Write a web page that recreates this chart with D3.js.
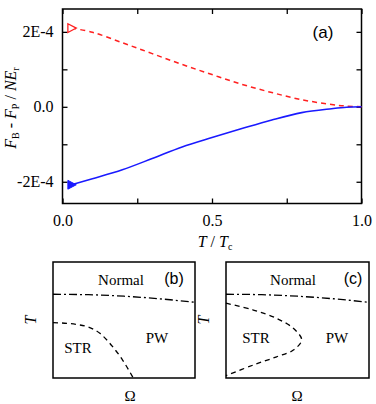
<!DOCTYPE html>
<html>
<head>
<meta charset="utf-8">
<script src="https://d3js.org/d3.v7.min.js"></script>
<style>
  html, body { margin: 0; padding: 0; background: #fff; }
  svg { display: block; }
</style>
</head>
<body>
<svg id="chart" width="376" height="404"></svg>
<script>
// panel (a): free energy difference vs T/Tc
const tRatio = [0.03, 0.1, 0.2, 0.3, 0.4, 0.5, 0.6, 0.7, 0.8, 0.9, 0.95, 1.0];
const dfUpper = [2.10e-4, 1.99e-4, 1.71e-4, 1.42e-4, 1.13e-4, 0.86e-4, 0.60e-4, 0.38e-4, 0.19e-4, 0.06e-4, 0.02e-4, 0];
const dfLower = [-2.08e-4, -1.92e-4, -1.68e-4, -1.38e-4, -1.07e-4, -0.82e-4, -0.58e-4, -0.35e-4, -0.155e-4, -0.05e-4, -0.01e-4, 0];
const yMajor = [-2e-4, 0, 2e-4];
const yMinor = [-1e-4, 1e-4];
const yLabels = ['-2E-4', '0.0', '2E-4'];
const xMajor = [0, 0.5, 1];
const xMinor = [0.25, 0.75];
const xLabels = ['0.0', '0.5', '1.0'];

// panels (b), (c): schematic phase diagrams, normalized (omega, T)
const normalLineOmega = [0, 0.25, 0.5, 0.75, 1];
const normalLineT = [0.722, 0.718, 0.705, 0.683, 0.652];
const strB_omega = [0, 0.19, 0.33, 0.42, 0.49, 0.565];
const strB_T = [0.478, 0.457, 0.385, 0.27, 0.155, 0.0];
const strC_omega = [0, 0.191, 0.354, 0.471, 0.529, 0.471, 0.354, 0.191, 0];
const strC_T = [0.645, 0.586, 0.514, 0.428, 0.328, 0.241, 0.183, 0.112, 0.02];

const SERIF = '"Liberation Serif", "Times New Roman", "DejaVu Serif", serif';
const SANS = '"Liberation Sans", Arial, Helvetica, sans-serif';

const svg = d3.select('#chart');

// ---------- panel (a) ----------
const aLeft = 62.5, aRight = 361.5, aTop = 9, aBottom = 203.5;
const x = d3.scaleLinear().domain([0, 1]).range([aLeft, aRight]);
const y = d3.scaleLinear().domain([-2.58e-4, 2.61e-4]).range([aBottom, aTop]);
const tick = 5;

const gA = svg.append('g');

function axisTicks(axis, vals) {
  return axis.tickValues(vals).tickSize(-tick).tickFormat('');
}
gA.append('g').attr('transform', `translate(${aLeft},0)`)
  .call(d3.axisLeft(y).tickValues(yMajor.concat(yMinor)).tickSize(-tick).tickPadding(9)
    .tickFormat(d => { const i = yMajor.indexOf(d); return i >= 0 ? yLabels[i] : ''; }));
gA.append('g').attr('transform', `translate(${aRight},0)`)
  .call(axisTicks(d3.axisRight(y), yMajor.concat(yMinor)));
gA.append('g').attr('transform', `translate(0,${aBottom})`)
  .call(d3.axisBottom(x).tickValues(xMajor.concat(xMinor)).tickSize(-tick).tickPadding(11)
    .tickFormat(d => { const i = xMajor.indexOf(d); return i >= 0 ? xLabels[i] : ''; }));
gA.append('g').attr('transform', `translate(0,${aTop})`)
  .call(axisTicks(d3.axisTop(x), xMajor.concat(xMinor)));

gA.selectAll('.domain').remove();
gA.selectAll('g').attr('font-family', SERIF).attr('font-size', 16);
gA.selectAll('.tick line').attr('stroke', '#000').attr('stroke-width', 1.3);
gA.selectAll('.tick text').attr('fill', '#000');

gA.append('rect')
  .attr('x', aLeft).attr('y', aTop).attr('width', aRight - aLeft).attr('height', aBottom - aTop)
  .attr('fill', 'none').attr('stroke', '#000').attr('stroke-width', 1.5);

const lineA = d3.line().x(d => x(d[0])).y(d => y(d[1])).curve(d3.curveCatmullRom);
gA.append('path')
  .attr('d', lineA(tRatio.map((t, i) => [t, dfUpper[i]])))
  .attr('fill', 'none').attr('stroke', '#ff2020').attr('stroke-width', 1.5)
  .attr('stroke-dasharray', '5,4');
gA.append('path')
  .attr('d', lineA(tRatio.map((t, i) => [t, dfLower[i]])))
  .attr('fill', 'none').attr('stroke', '#1a1aff').attr('stroke-width', 1.6);

function triRight(cx, cy, s) {
  return `M${cx - s * 0.45},${cy - s * 0.55}L${cx + s * 0.6},${cy}L${cx - s * 0.45},${cy + s * 0.55}Z`;
}
gA.append('path')
  .attr('d', triRight(x(tRatio[0]), y(dfUpper[0]), 8))
  .attr('fill', '#fff').attr('stroke', '#ff2020').attr('stroke-width', 1.3);
gA.append('path')
  .attr('d', triRight(x(tRatio[0]), y(dfLower[0]), 8))
  .attr('fill', '#1a1aff').attr('stroke', '#1a1aff').attr('stroke-width', 1);

gA.append('text').attr('font-family', SANS)
  .attr('x', 323).attr('y', 38).attr('text-anchor', 'middle').attr('font-size', 17)
  .text('(a)');

// x label: T / Tc
const xl = gA.append('text').attr('font-family', SERIF).attr('font-size', 16)
  .attr('x', 215).attr('y', 247).attr('text-anchor', 'middle');
xl.append('tspan').attr('font-style', 'italic').text('T');
xl.append('tspan').text(' / ');
xl.append('tspan').attr('font-style', 'italic').text('T');
xl.append('tspan').attr('font-size', 10).attr('dy', 3).text('c');

// y label: F_B - F_P / N E_r
const yl = gA.append('text').attr('font-family', SERIF).attr('font-size', 16)
  .attr('transform', 'translate(16,108) rotate(-90)').attr('text-anchor', 'middle');
yl.append('tspan').attr('font-style', 'italic').text('F');
yl.append('tspan').attr('font-size', 10).attr('dy', 3).text('B');
yl.append('tspan').attr('dy', -3).text(' - ');
yl.append('tspan').attr('font-style', 'italic').text('F');
yl.append('tspan').attr('font-size', 10).attr('dy', 3).text('P');
yl.append('tspan').attr('dy', -3).text(' / ');
yl.append('tspan').attr('font-style', 'italic').text('NE');
yl.append('tspan').attr('font-size', 10).attr('dy', 3).text('r');

// ---------- panels (b), (c) ----------
function phasePanel(x0, x1, tag, strOmega, strT, curve, labels) {
  const px = d3.scaleLinear().domain([0, 1]).range([x0, x1]);
  const py = d3.scaleLinear().domain([0, 1]).range([378, 262]);
  const g = svg.append('g').attr('font-family', SERIF);
  g.append('rect')
    .attr('x', x0).attr('y', 262).attr('width', x1 - x0).attr('height', 116)
    .attr('fill', 'none').attr('stroke', '#000').attr('stroke-width', 1.5);
  const ln = d3.line().x(d => px(d[0])).y(d => py(d[1]));
  g.append('path')
    .attr('d', ln.curve(d3.curveMonotoneX)(normalLineOmega.map((o, i) => [o, normalLineT[i]])))
    .attr('fill', 'none').attr('stroke', '#000').attr('stroke-width', 1.3)
    .attr('stroke-dasharray', '8,3,2,3');
  g.append('path')
    .attr('d', ln.curve(curve)(strOmega.map((o, i) => [o, strT[i]])))
    .attr('fill', 'none').attr('stroke', '#000').attr('stroke-width', 1.3)
    .attr('stroke-dasharray', '5,4');
  g.append('text').attr('font-size', 15)
    .attr('x', labels.normal[0]).attr('y', 285).attr('text-anchor', 'middle').text('Normal');
  g.append('text').attr('font-family', SANS).attr('font-size', 16)
    .attr('x', labels.tag[0]).attr('y', 284).attr('text-anchor', 'middle').text(tag);
  g.append('text').attr('font-size', 15)
    .attr('x', labels.str[0]).attr('y', labels.str[1]).attr('text-anchor', 'middle').text('STR');
  g.append('text').attr('font-size', 15)
    .attr('x', labels.pw[0]).attr('y', labels.pw[1]).attr('text-anchor', 'middle').text('PW');
  g.append('text').attr('font-size', 16).attr('font-style', 'italic')
    .attr('transform', `translate(${x0 - 17},${320}) rotate(-90)`).attr('text-anchor', 'middle')
    .text('T');
  g.append('text').attr('font-size', 15)
    .attr('x', labels.omega).attr('y', 401).attr('text-anchor', 'middle').text('Ω');
}

phasePanel(53, 195, '(b)', strB_omega, strB_T, d3.curveMonotoneX,
  { normal: [121], tag: [174], str: [78, 353], pw: [157, 343], omega: 130 });
phasePanel(226, 369, '(c)', strC_omega, strC_T, d3.curveCatmullRom,
  { normal: [293], tag: [353], str: [256, 343], pw: [337, 343], omega: 297 });
</script>
</body>
</html>
